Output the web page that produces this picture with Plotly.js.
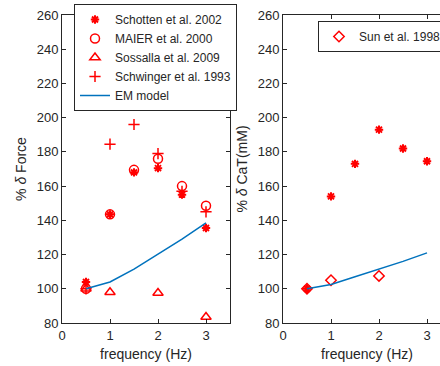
<!DOCTYPE html>
<html><head><meta charset="utf-8">
<script src="https://cdn.plot.ly/plotly-3.0.1.min.js"></script>
<style>html,body{margin:0;padding:0;overflow:hidden;background:#fff;}#plot{width:460px;height:366px;}</style>
</head><body><div id="plot"></div>
<script>
// ---- data ----
var schottenForceX = [0.5, 1, 1.5, 2, 2.5, 3];
var schottenForceY = [104, 143.5, 168, 170.5, 155, 135.5];
var maierX = [0.5, 1, 1.5, 2, 2.5, 3];
var maierY = [100, 143.5, 169.5, 176, 160, 148.5];
var sossallaX = [0.5, 1, 2, 3];
var sossallaY = [100, 98, 97.5, 83.5];
var schwingerX = [0.5, 1, 1.5, 2, 2.5, 3];
var schwingerY = [100, 184.5, 196, 179, 157, 145];
var emForceX = [0.5, 1, 1.5, 2, 2.5, 3];
var emForceY = [100, 104, 111.5, 120, 129, 138.5];

var schottenCaX = [0.5, 1, 1.5, 2, 2.5, 3];
var schottenCaY = [100, 154, 173, 193, 182, 174.5];
var sunX = [0.5, 1, 2];
var sunY = [100, 105, 107.5];
var emCaX = [0.5, 1, 1.5, 2, 2.5, 3];
var emCaY = [100, 102.5, 107, 111.5, 116, 121];

var xTicks = [0, 1, 2, 3];
var yTicks = [80, 100, 120, 140, 160, 180, 200, 220, 240, 260];

var RED = '#FF0000', BLUE = '#0072BD', AX = '#262626';
var W = 460, H = 366;

var traces = [
  {x: schottenForceX, y: schottenForceY, mode: 'markers', name: 'Schotten et al. 2002', legend: 'legend',
   marker: {symbol: 'asterisk-open', size: 7, color: RED, line: {color: RED, width: 2}}, xaxis: 'x', yaxis: 'y'},
  {x: maierX, y: maierY, mode: 'markers', name: 'MAIER et al. 2000', legend: 'legend',
   marker: {symbol: 'circle-open', size: 9, color: RED, line: {color: RED, width: 1.5}}, xaxis: 'x', yaxis: 'y'},
  {x: sossallaX, y: sossallaY, mode: 'markers', name: 'Sossalla et al. 2009', legend: 'legend',
   marker: {symbol: 'triangle-up-open', size: 9, color: RED, line: {color: RED, width: 1.5}}, xaxis: 'x', yaxis: 'y'},
  {x: schwingerX, y: schwingerY, mode: 'markers', name: 'Schwinger et al. 1993', legend: 'legend',
   marker: {symbol: 'cross-thin-open', size: 8, color: RED, line: {color: RED, width: 1.5}}, xaxis: 'x', yaxis: 'y'},
  {x: emForceX, y: emForceY, mode: 'lines', name: 'EM model', legend: 'legend',
   line: {color: BLUE, width: 1.5}, xaxis: 'x', yaxis: 'y'},

  {x: schottenCaX, y: schottenCaY, mode: 'markers', name: 'Schotten et al. 2002', showlegend: false,
   marker: {symbol: 'asterisk-open', size: 7, color: RED, line: {color: RED, width: 2}}, xaxis: 'x2', yaxis: 'y2'},
  {x: sunX, y: sunY, mode: 'markers', name: 'Sun et al. 1998', legend: 'legend2',
   marker: {symbol: 'diamond-open', size: 8, color: RED, line: {color: RED, width: 1.5}}, xaxis: 'x2', yaxis: 'y2'},
  {x: emCaX, y: emCaY, mode: 'lines', name: 'EM model', showlegend: false,
   line: {color: BLUE, width: 1.5}, xaxis: 'x2', yaxis: 'y2'}
];

function xax(dom, anchor) {
  return {domain: dom, anchor: anchor, range: [0, 3.5], tickvals: xTicks, ticktext: xTicks.map(String),
    showgrid: false, zeroline: false, showline: true, linecolor: AX, linewidth: 1, mirror: 'ticks',
    ticks: 'inside', ticklen: 4, tickcolor: AX, tickfont: {size: 13, color: AX},
    title: {text: 'frequency (Hz)', font: {size: 14, color: AX}, standoff: 7}, automargin: false};
}
function yax(dom, anchor, title) {
  return {domain: dom, anchor: anchor, range: [80, 260], tickvals: yTicks, ticktext: yTicks.map(String),
    showgrid: false, zeroline: false, showline: true, linecolor: AX, linewidth: 1, mirror: 'ticks',
    ticks: 'inside', ticklen: 4, tickcolor: AX, tickfont: {size: 13, color: AX},
    title: {text: title, font: {size: 14, color: AX}, standoff: 6}, automargin: false};
}

var yd = [(H - 323) / H, (H - 15) / H];
var layout = {
  width: W, height: H,
  margin: {l: 0, r: 0, t: 0, b: 0},
  paper_bgcolor: '#fff', plot_bgcolor: '#fff',
  font: {family: 'Liberation Sans, Arial, sans-serif', color: AX},
  showlegend: true,
  xaxis: xax([62 / W, 230 / W], 'y'),
  yaxis: yax(yd, 'x', '% <i>δ</i> Force'),
  xaxis2: xax([283 / W, 451 / W], 'y2'),
  yaxis2: yax(yd, 'x2', '% <i>δ</i> CaT(mM)'),
  legend: {x: 74 / W, y: 1 - 4 / H, xanchor: 'left', yanchor: 'top', bgcolor: '#fff',
    bordercolor: AX, borderwidth: 1, font: {size: 12, color: AX}, tracegroupgap: 0, itemwidth: 30},
  legend2: {x: 318 / W, y: 1 - 21 / H, xanchor: 'left', yanchor: 'top', bgcolor: '#fff',
    bordercolor: AX, borderwidth: 1, font: {size: 12, color: AX}, itemwidth: 30}
};

Plotly.newPlot('plot', traces, layout, {displayModeBar: false, staticPlot: true});
</script>
</body></html>
